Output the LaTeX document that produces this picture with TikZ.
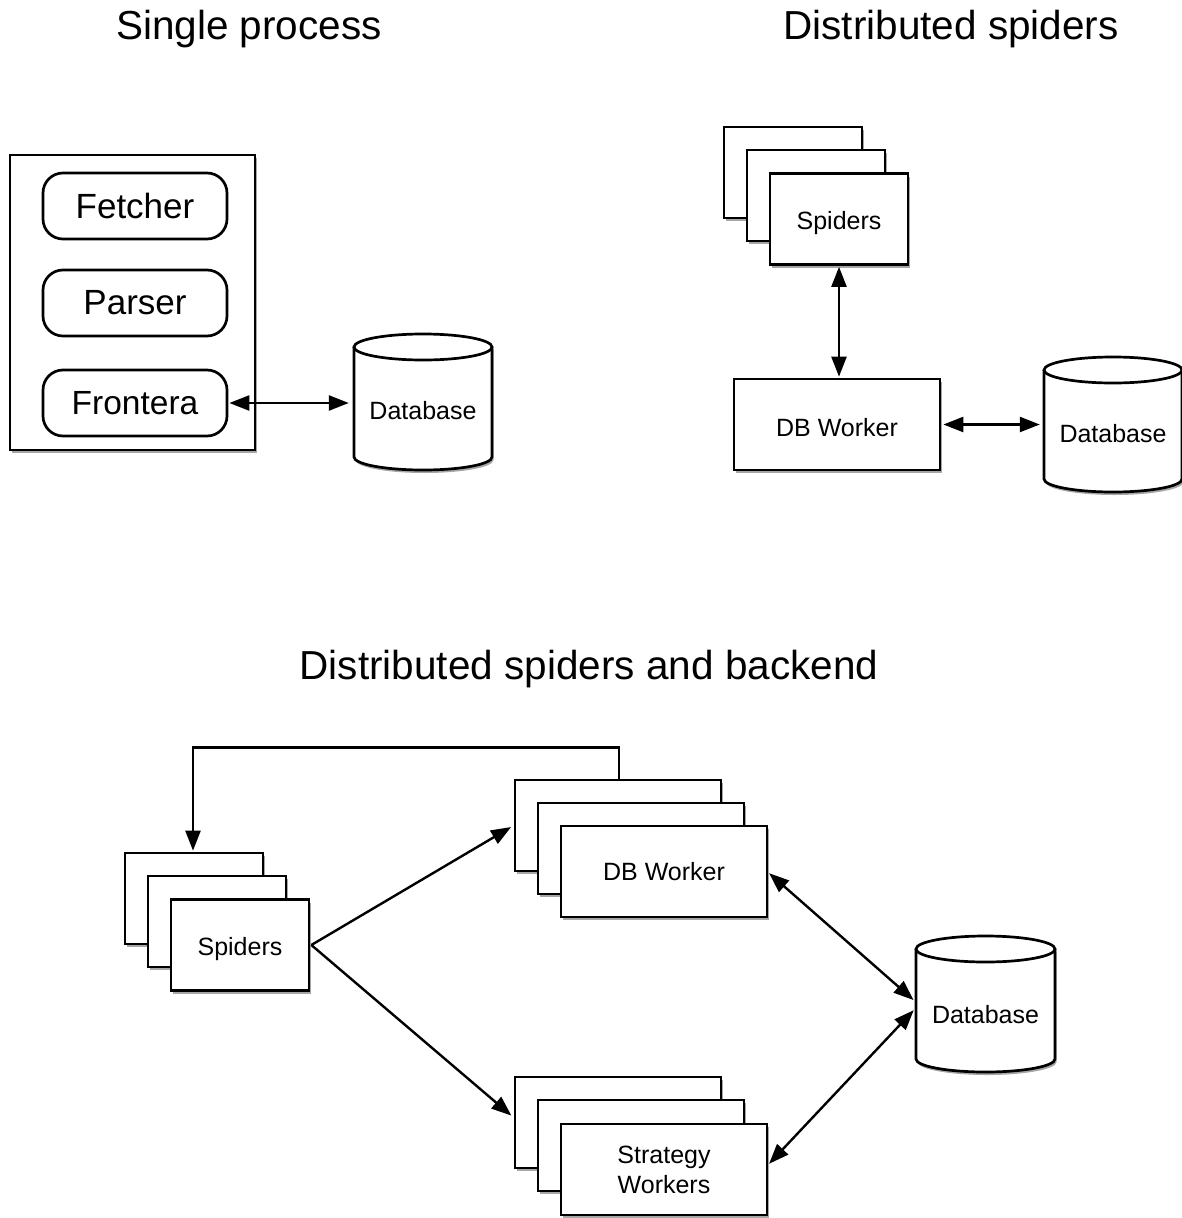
\documentclass[tikz,border=0pt]{standalone}
\usepackage{fontspec}
\setmainfont{Liberation Sans}
\usetikzlibrary{arrows.meta,shadows}
\newcommand\dbcyl[4]{%
  \path[fill=white,shd] (#1-#4,#2) -- (#1-#4,#3)
    arc[start angle=180,end angle=360,x radius=#4pt,y radius=13pt]
    -- (#1+#4,#2)
    arc[start angle=0,end angle=180,x radius=#4pt,y radius=13pt] -- cycle;
  \draw[line width=2.7pt] (#1-#4,#2) -- (#1-#4,#3)
    arc[start angle=180,end angle=360,x radius=#4pt,y radius=13pt]
    -- (#1+#4,#2);
  \draw[line width=2.7pt,fill=white] (#1,#2) ellipse[x radius=#4pt,y radius=13pt];
}
\newcommand\lowr[2]{\raisebox{-#1}[\height][\depth]{#2}}
\begin{document}
\begin{tikzpicture}[x=1pt,y=-1pt,
  shd/.style={drop shadow={shadow xshift=1.5pt,shadow yshift=-3pt,opacity=0.35,fill=black}},
  title/.style={font=\fontsize{40.5}{46}\selectfont,anchor=base},
  card/.style={draw,line width=2.7pt,fill=white,shd,inner sep=0pt,
    minimum width=#1,minimum height=91,font=\fontsize{25}{30}\selectfont,align=center},
  card/.default=138,
  comp/.style={draw,line width=2.7pt,fill=white,rounded corners=20pt,inner sep=0pt,
    minimum width=184,minimum height=66,font=\fontsize{35}{40}\selectfont},
  dblabel/.style={inner sep=0pt,minimum width=#1,font=\fontsize{25}{30}\selectfont},
  dblabel/.default=138,
  arr/.style={line width=2.4pt,-{Triangle[length=20pt,width=15pt]}},
  dbl/.style={line width=2.4pt,{Triangle[length=20pt,width=15pt]}-{Triangle[length=20pt,width=15pt]}}
]
\useasboundingbox (0,0) rectangle (1182,1218);

% ---------- titles
\node[title] (t1) at (249,39) {Single process};
\node[title] (t2) at (951,39) {Distributed spiders};
\node[title] (t3) at (589,679) {Distributed spiders and backend};

% ---------- Single process
\node[draw,line width=2.7pt,fill=white,shd,minimum width=245,minimum height=295,inner sep=0pt] (proc) at (132.5,302.5) {};
\node[comp] (fet) at (135,206) {Fetcher};
\node[comp] (par) at (135,303) {Parser};
\node[comp,font=\fontsize{33.5}{40}\selectfont] (fro) at (135,403) {Frontera};
\dbcyl{423}{347}{457}{69}
\node[dblabel] (db1) at (423,411) {Database};
\draw[dbl,shorten <=1pt,shorten >=5pt] (fro.east) -- (fro.east -| db1.west);

% ---------- Distributed spiders
\node[card] (s1b) at (793,172.5) {};
\node[card] (s1m) at (816,195.5) {};
\node[card] (s1f) at (839,219) {\lowr{4pt}{Spiders}};
\node[card=206] (dbw) at (837,424.5) {\lowr{3pt}{DB Worker}};
\dbcyl{1113}{370}{479}{69}
\node[dblabel] (db2) at (1113,434) {Database};
\draw[dbl,shorten <=1pt,shorten >=1pt] (s1f.south) -- (s1f.south |- dbw.north);
\draw[dbl,shorten <=2pt,shorten >=4pt] (dbw.east) -- (dbw.east -| db2.west);

% ---------- Distributed spiders and backend
\node[card] (s2b) at (194,898.5) {};
\node[card] (s2m) at (217,921.5) {};
\node[card] (s2f) at (240,945) {\lowr{4pt}{Spiders}};
\node[card=206] (wb) at (618,825.5) {};
\node[card=206] (wm) at (641,848.5) {};
\node[card=206] (wf) at (664,871.5) {DB Worker};
\node[card=206] (sb) at (618,1122.5) {};
\node[card=206] (sm) at (641,1145.5) {};
\node[card=206] (sf) at (664,1169.5) {Strategy\\Workers};
\dbcyl{985.5}{949}{1059}{69.5}
\node[dblabel=139] (db3) at (985.5,1015) {Database};

\draw[arr,shorten >=1pt] ([xshift=1pt]wb.north) -- ++(0,-31) -| ([xshift=-1pt]s2b.north);
\draw[arr,shorten >=3pt] ([xshift=1pt]s2f.east) -- (wb.west);
\draw[arr,shorten >=3pt] ([xshift=1pt]s2f.east) -- ([yshift=5pt]sb.west);
\draw[dbl,shorten <=1pt,shorten >=3pt] ([yshift=-1pt]wf.east) -- ([yshift=13pt]db3.west);
\draw[dbl,shorten <=1pt,shorten >=3pt] ([yshift=5pt]sf.east) -- ([yshift=7pt]db3.west);
\end{tikzpicture}
\end{document}
